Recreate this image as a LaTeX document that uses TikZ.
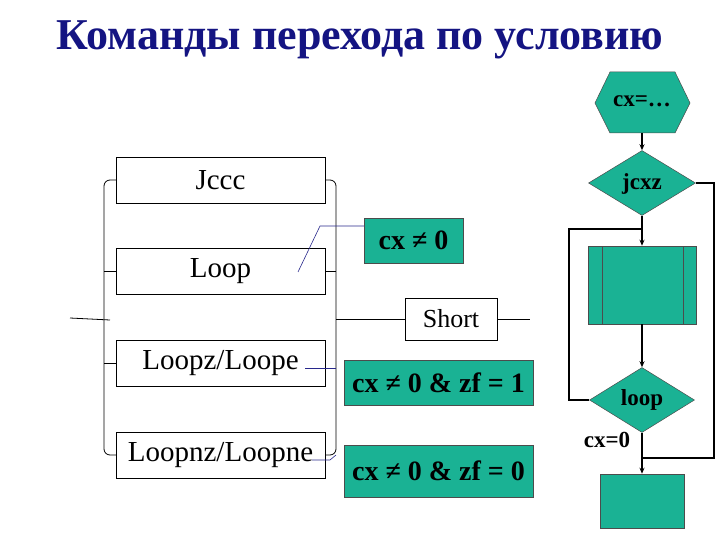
\documentclass[tikz,border=0pt]{standalone}
\usepackage{fontspec}
\setmainfont{Liberation Serif}
\usetikzlibrary{shapes.geometric,arrows.meta}
\definecolor{teal1}{RGB}{26,178,148}
\definecolor{navy1}{RGB}{20,20,130}
\definecolor{line1}{RGB}{40,40,140}
\tikzset{
 wbox/.style={draw=black,fill=white,line width=0.8pt,minimum width=209pt,minimum height=46pt,inner sep=0pt,font=\fontsize{29}{31}\selectfont},
 tbox/.style={draw=black!70,fill=teal1,line width=0.5pt,inner sep=0pt,font=\bfseries\fontsize{28}{30}\selectfont},
 fl/.style={draw=black!70,fill=teal1,line width=0.5pt,inner sep=0pt},
 ft/.style={font=\bfseries\fontsize{23}{25}\selectfont},
 br/.style={line width=0.8pt,rounded corners=6pt},
 ar/.style={line width=1.2pt,-{Stealth[length=6pt,width=5pt]}},
 ln/.style={line width=1.2pt}
}
\begin{document}
\begin{tikzpicture}[x=1pt,y=-1pt]
\useasboundingbox (0,0) rectangle (720,540);
\node[text=navy1,font=\bfseries\fontsize{44}{48}\selectfont] (title) at (360,40) {Команды перехода по условию};
% brackets
\draw[br] (116,180) -- (104,180) -- (104,455) -- (116,455);
\draw[br] (325,180) -- (336,180) -- (336,455) -- (325,455);
\draw[line width=0.8pt] (104,271) -- (116,271) (104,363) -- (116,363);
\draw[line width=0.8pt] (325,271) -- (336,271);
\draw[line width=0.8pt] (70,318) -- (110,320);
\node[wbox] (jccc) at (220.5,180) {Jccc};
\node[wbox] (loop) at (220.5,271) {Loop};
\node[wbox] (loopz) at (220.5,363) {Loopz/Loope};
\node[wbox] (loopnz) at (220.5,455) {Loopnz/Loopne};
\node[draw=black,fill=white,line width=0.8pt,minimum width=92pt,minimum height=42pt,inner sep=0pt,font=\fontsize{26}{28}\selectfont] (short) at (451,319) {Short};
\draw[line width=0.8pt] (336,319) -- (short.west);
\draw[line width=0.8pt] (short.east) -- (530,319);
\node[tbox,minimum width=99pt,minimum height=45pt] (c1) at (413.5,240.5) {cx ≠ 0};
\node[tbox,minimum width=189pt,minimum height=45pt] (c2) at (438.5,382.5) {cx ≠ 0 \& zf = 1};
\node[tbox,minimum width=189pt,minimum height=52pt] (c3) at (438.5,471) {cx ≠ 0 \& zf = 0};
\coordinate (k1) at (320,226);
\coordinate (k2) at (298,272);
\draw[line1,line width=0.6pt] (c1.west |- k1) -- (k1) -- (k2);
\coordinate (k3) at (305,368);
\draw[line1,line width=0.6pt] (k3) -- (336,368);
\coordinate (k4) at (312,460);
\draw[line1,line width=0.6pt] (k4) -- (330,460) -- (336,455);
% flowchart
\path[fl] (595,103) -- (610,72) -- (675,72) -- (690,103) -- (675,133) -- (610,133) -- cycle;
\node[ft] (hex) at (642,101) {cx=…};
\coordinate (hexb) at (642,133);
\node[fl,diamond,minimum width=107pt,minimum height=65pt,aspect=1.65] (jcxz) at (642,183) {};
\node[ft] at (642,184) {jcxz};
\draw[ar] (hexb) -- (jcxz.north);
\node[fl,minimum width=108pt,minimum height=78pt] (blk) at (642,285) {};
\draw[black!70,line width=0.6pt] (602,246) -- (602,324) (683,246) -- (683,324);
\draw[ar] (jcxz.south) -- (blk.north);
\node[fl,diamond,minimum width=105pt,minimum height=65pt,aspect=1.6] (lp) at (642,400) {};
\node[ft] at (642,400) {loop};
\draw[ar] (blk.south) -- (lp.north);
\draw[ln] (lp.west) -- (569,400) -- (569,229) -- (642,229);
\node[fl,minimum width=84pt,minimum height=54pt] (end) at (642,501) {};
\draw[ar] (lp.south) -- (end.north);
\draw[ln] (jcxz.east) -- (714,183) -- (714,458) -- (642,458);
\node[ft] (cx0) at (607,440) {cx=0};
\end{tikzpicture}
\end{document}
